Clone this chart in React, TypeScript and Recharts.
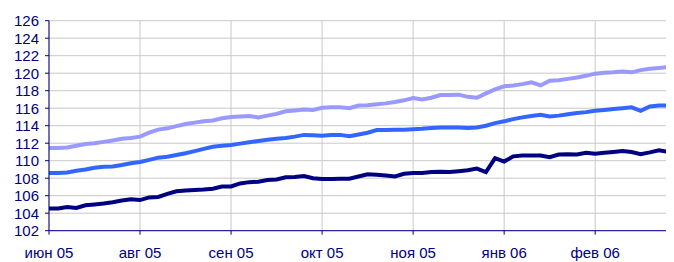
import { LineChart, Line, XAxis, YAxis, CartesianGrid } from 'recharts'

// x axis month labels, one per 10 points
const tickLabels = ['июн 05', 'авг 05', 'сен 05', 'окт 05', 'ноя 05', 'янв 06', 'фев 06']
const xTicks = [0, 10, 20, 30, 40, 50, 60]
const yTicks = [102, 104, 106, 108, 110, 112, 114, 116, 118, 120, 122, 124, 126]

const topSeries = [
  111.45, 111.45, 111.5, 111.7, 111.9, 112.0, 112.15, 112.3, 112.5, 112.6,
  112.75, 113.2, 113.55, 113.7, 113.95, 114.2, 114.35, 114.5, 114.6, 114.85,
  115.0, 115.05, 115.1, 114.95, 115.15, 115.35, 115.65, 115.75, 115.85, 115.8,
  116.05, 116.1, 116.1, 116.0, 116.3, 116.35, 116.45, 116.55, 116.7, 116.9,
  117.15, 117.0, 117.2, 117.5, 117.5, 117.55, 117.3, 117.2, 117.7, 118.15,
  118.5, 118.6, 118.75, 118.95, 118.6, 119.15, 119.2, 119.35, 119.5, 119.7,
  119.95, 120.05, 120.1, 120.2, 120.1, 120.35, 120.5, 120.6, 120.7,
]

const midSeries = [
  108.6, 108.6, 108.65, 108.85, 109.0, 109.2, 109.3, 109.35, 109.5, 109.7,
  109.85, 110.1, 110.35, 110.45, 110.65, 110.85, 111.1, 111.35, 111.6, 111.7,
  111.8, 111.95, 112.1, 112.25, 112.4, 112.5, 112.6, 112.75, 112.95, 112.9,
  112.85, 112.95, 112.95, 112.8, 113.0, 113.2, 113.5, 113.5, 113.55, 113.55,
  113.6, 113.65, 113.75, 113.8, 113.8, 113.8, 113.75, 113.8, 114.0, 114.3,
  114.5, 114.75, 114.95, 115.1, 115.25, 115.05, 115.15, 115.3, 115.45, 115.55,
  115.7, 115.8, 115.9, 116.0, 116.1, 115.7, 116.2, 116.3, 116.3,
]

const bottomSeries = [
  104.55, 104.55, 104.7, 104.6, 104.9, 105.0, 105.1, 105.25, 105.45, 105.6,
  105.5, 105.8, 105.85, 106.2, 106.5, 106.6, 106.65, 106.7, 106.8, 107.05,
  107.05, 107.4, 107.55, 107.6, 107.8, 107.85, 108.1, 108.15, 108.25, 108.0,
  107.9, 107.9, 107.95, 107.95, 108.2, 108.45, 108.4, 108.3, 108.2, 108.5,
  108.6, 108.6, 108.7, 108.75, 108.7, 108.8, 108.9, 109.1, 108.7, 110.3,
  109.9, 110.5, 110.6, 110.6, 110.6, 110.4, 110.7, 110.75, 110.7, 110.9,
  110.8, 110.9, 111.0, 111.1, 111.0, 110.75, 110.95, 111.2, 111.0,
]

const data = topSeries.map((v, i) => ({
  i,
  top: v,
  mid: midSeries[i],
  bottom: bottomSeries[i],
}))

const axisColor = '#000080'
const tickStyle = { fill: '#000080', fontSize: 15, fontFamily: 'Liberation Sans, Arial, sans-serif' }

export default function App() {
  return (
    <LineChart width={662} height={254} data={data} margin={{ top: 12.7, right: 2, left: 0, bottom: 0 }}>
      <CartesianGrid stroke="#C8C8C8" />
      <XAxis
        dataKey="i"
        type="number"
        domain={[0, 68]}
        ticks={xTicks}
        tickFormatter={(v: number) => tickLabels[xTicks.indexOf(v)]}
        tick={tickStyle}
        stroke={axisColor}
        tickSize={4}
        tickMargin={13}
        height={31.3}
        interval={0}
      />
      <YAxis
        domain={[102, 126]}
        ticks={yTicks}
        tick={tickStyle}
        stroke={axisColor}
        tickSize={4}
        tickMargin={6}
        width={41}
        interval={0}
      />
      <Line dataKey="top" stroke="#9999FF" strokeWidth={4} dot={false} isAnimationActive={false} />
      <Line dataKey="mid" stroke="#3366FF" strokeWidth={4} dot={false} isAnimationActive={false} />
      <Line dataKey="bottom" stroke="#000080" strokeWidth={4} dot={false} isAnimationActive={false} />
    </LineChart>
  )
}
